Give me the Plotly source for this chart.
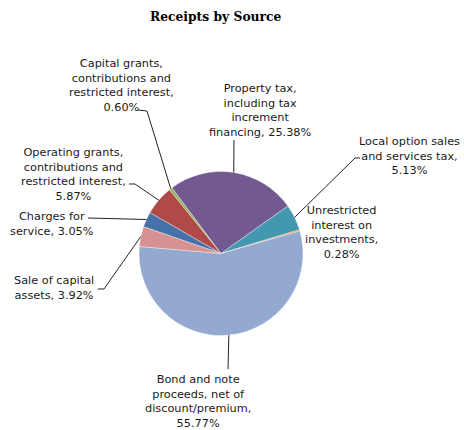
import math
import plotly.graph_objects as go

# Data (Excel series order; first slice starts at the rotation angle, clockwise)
labels = [
    "Charges for service",
    "Operating grants, contributions and restricted interest",
    "Capital grants, contributions and restricted interest",
    "Property tax, including tax increment financing",
    "Local option sales and services tax",
    "Unrestricted interest on investments",
    "Bond and note proceeds, net of discount/premium",
    "Sale of capital assets",
]
values = [3.05, 5.87, 0.60, 25.38, 5.13, 0.28, 55.77, 3.92]
label_text = [
    "Charges for<br>service, 3.05%",
    "Operating grants,<br>contributions and<br>restricted interest,<br>5.87%",
    "Capital grants,<br>contributions and<br>restricted interest,<br>0.60%",
    "Property tax,<br>including tax<br>increment<br>financing, 25.38%",
    "Local option sales<br>and services tax,<br>5.13%",
    "Unrestricted<br>interest on<br>investments,<br>0.28%",
    "Bond and note<br>proceeds, net of<br>discount/premium,<br>55.77%",
    "Sale of capital<br>assets, 3.92%",
]
colors = ["#4672AA", "#B04A47", "#93B25A", "#72598F", "#4397AE", "#E8883F", "#93A9D0", "#D69291"]

W, H = 464, 430
ROT = 289.0
CX, CY, R = 221.0, 253.5, 82.0

# label centres (pixel) and leader tails (pixel)
label_pos = [(52, 224), (73, 174), (121, 85), (260, 110), (409, 156), (341, 232), (198, 401), (54, 288)]
leader_tail = [
    [(88, 218)],
    [(129, 184), (135, 184)],
    [(138, 110), (147, 111)],
    [(234, 140)],
    [(360, 158), (355, 158)],
    None,
    [(228, 369)],
    [(98, 289), (104, 289)],
]

def px(x):
    return x / W

def py(y):
    return 1 - y / H

fig = go.Figure(go.Pie(
    labels=labels, values=values, sort=False, direction="clockwise",
    rotation=ROT, textinfo="none", hoverinfo="label+percent",
    marker=dict(colors=colors, line=dict(color="rgba(255,255,255,0.6)", width=0.6)),
    domain=dict(x=[px(CX - R), px(CX + R)], y=[py(CY + R), py(CY - R)]),
    showlegend=False,
))

total = sum(values)
cum = 0.0
shapes = []
annotations = []
for i, v in enumerate(values):
    mid = math.radians(ROT + (cum + v / 2) / total * 360)
    cum += v
    ex, ey = CX + R * math.sin(mid), CY - R * math.cos(mid)
    tail = leader_tail[i]
    if tail:
        pts = tail + [(ex, ey)]
        path = "M " + " L ".join(f"{px(x):.5f},{py(y):.5f}" for x, y in pts)
        shapes.append(dict(type="path", xref="paper", yref="paper", path=path,
                           line=dict(color="#222222", width=1)))
    lx, ly = label_pos[i]
    annotations.append(dict(x=px(lx), y=py(ly), xref="paper", yref="paper",
                            text=label_text[i], showarrow=False, align="center",
                            xanchor="center", yanchor="middle",
                            font=dict(family="DejaVu Sans", size=11.3, color="#1a1a1a")))

annotations.append(dict(x=px(215.5), y=py(16.5), xref="paper", yref="paper",
                        text="<b>Receipts by Source</b>", showarrow=False,
                        xanchor="center", yanchor="middle",
                        font=dict(family="DejaVu Serif", size=12.3, color="#000000")))

fig.update_layout(width=W, height=H, margin=dict(l=0, r=0, t=0, b=0),
                  paper_bgcolor="white", plot_bgcolor="white",
                  shapes=shapes, annotations=annotations)
fig.write_html("out.html", config={"displayModeBar": False},
               post_script="document.body.style.margin='0';document.body.style.overflow='hidden';")
